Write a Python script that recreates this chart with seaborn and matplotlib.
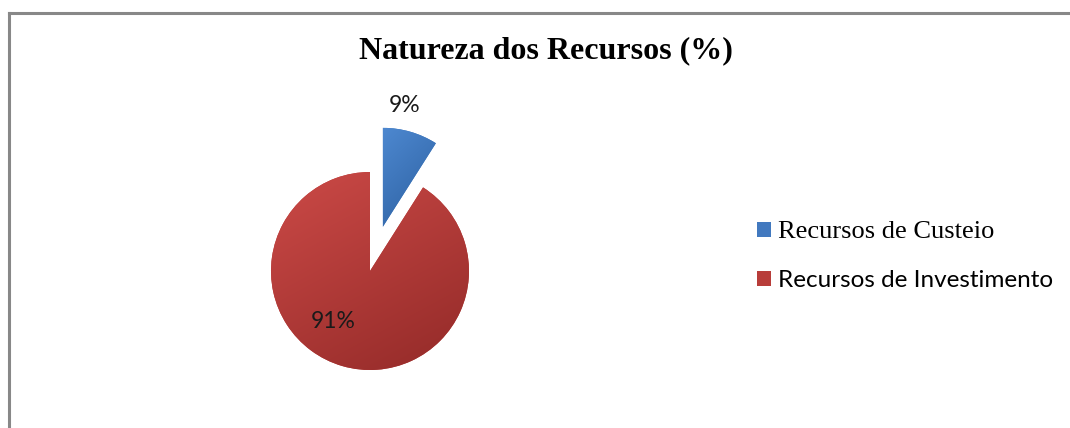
import matplotlib
matplotlib.use("Agg")
import numpy as np
import matplotlib.pyplot as plt
from matplotlib.lines import Line2D
from matplotlib.patches import Patch
from matplotlib.colors import to_rgb
import seaborn as sns

# ---- data ----
categories = ["Recursos de Custeio", "Recursos de Investimento"]
values = [9, 91]
pct_labels = ["9%", "91%"]
title = "Natureza dos Recursos (%)"

sns.set_theme(style="white")
plt.rcParams['font.family'] = ['Liberation Serif', 'DejaVu Sans']
plt.rcParams['text.color'] = 'black'

colors = ["#4279bf", "#b83d3a"]
grad = [("#4d88d0", "#2b5e9e"), ("#cc4a47", "#932a28")]

W, H = 1070, 428
fig = plt.figure(figsize=(W / 100, H / 100), dpi=100)
fig.patch.set_facecolor("white")

# pie axes: 1 data unit = 100 px, pie center at image (370, 271)
cx, cy = 370, H - 271
xl, yl = (-1.2, 1.2), (-1.5, 2.0)
ax = fig.add_axes([(cx + xl[0] * 100) / W, (cy + yl[0] * 100) / H,
                   (xl[1] - xl[0]) * 100 / W, (yl[1] - yl[0]) * 100 / H])
wedges, texts = ax.pie(values, colors=colors, startangle=90, counterclock=False,
                       explode=[0.46, 0.0], radius=0.99,
                       wedgeprops=dict(linewidth=0))

# gradient shading clipped to each wedge (light top-left -> dark bottom-right)
n = 200
gx, gy = np.meshgrid(np.linspace(0, 1, n), np.linspace(0, 1, n))
t = np.clip(0.35 * gx + 0.65 * gy, 0, 1)[..., None]
for w, (c0, c1) in zip(wedges, grad):
    a, b = np.array(to_rgb(c0)), np.array(to_rgb(c1))
    img = a * (1 - t) + b * t
    bb = w.get_path().get_extents(w.get_patch_transform())
    im = ax.imshow(img, extent=[bb.x0, bb.x1, bb.y0, bb.y1], origin="upper",
                   interpolation="bilinear", zorder=w.get_zorder() + 0.1)
    im.set_clip_path(w)

ax.set_xlim(*xl)
ax.set_ylim(*yl)
ax.set_aspect("equal")
ax.axis("off")

label_pos = [(0.35, 1.66), (-0.37, -0.51)]
for lab, (px, py) in zip(pct_labels, label_pos):
    ax.text(px, py, lab, ha="center", va="center", fontsize=16.5,
            family=["Lato", "DejaVu Sans"], color="#1a1a1a", zorder=5)

fig.text(546 / W, 1 - 51 / H, title, ha="center", va="center",
         fontsize=23, fontweight="bold", family=["Liberation Serif"], color="black")

# legend
handles = [Patch(facecolor=c, edgecolor="none") for c in colors]
leg = fig.legend(handles, categories, loc="center left",
                 bbox_to_anchor=(757 / W, 1 - 256 / H), frameon=False,
                 fontsize=18, handlelength=0.55, handleheight=0.55,
                 handletextpad=0.3, labelspacing=1.08,
                 borderpad=0, borderaxespad=0)
txts = leg.get_texts()
txts[0].set_family(["Liberation Serif"])
txts[0].set_fontsize(19)
txts[1].set_family(["Lato"])
txts[1].set_fontsize(17.5)
for tt in txts:
    tt.set_color("black")

# border (left and top)
bc = "#888888"
fig.add_artist(Line2D([9 / W, 9 / W], [0, 1 - 13 / H], transform=fig.transFigure,
                      color=bc, lw=2.2, solid_capstyle="projecting"))
fig.add_artist(Line2D([9 / W, 1], [1 - 13 / H, 1 - 13 / H], transform=fig.transFigure,
                      color=bc, lw=2.2, solid_capstyle="projecting"))

fig.savefig("out.png", dpi=100)
